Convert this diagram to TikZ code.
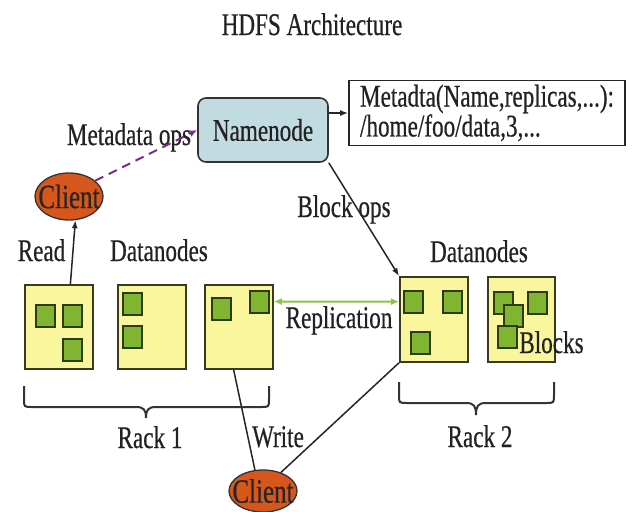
\documentclass[tikz,border=0pt]{standalone}
\usepackage{fontspec}
\setmainfont[FakeStretch=0.735,FakeBold=0.5]{Liberation Serif}
\usetikzlibrary{arrows.meta,shapes.geometric}
\definecolor{txt}{HTML}{222222}
\definecolor{nnfill}{HTML}{C0DCE0}
\definecolor{dnfill}{HTML}{F9F69E}
\definecolor{dnline}{HTML}{3A3A22}
\definecolor{blkfill}{HTML}{80B532}
\definecolor{blkline}{HTML}{2E3A12}
\definecolor{clfill}{HTML}{D6561C}
\definecolor{purp}{HTML}{7A2E8C}
\definecolor{grn}{HTML}{8DC63F}
\begin{document}
\begin{tikzpicture}[x=1pt,y=-1pt,
  lbl/.style={font=\fontsize{31.5}{31.5}\selectfont, inner sep=0pt, text=txt, anchor=base},
  dnbox/.style={draw=dnline, fill=dnfill, line width=1.8pt, minimum width=68pt, minimum height=84pt, inner sep=0pt, anchor=north west},
  blk/.style={draw=blkline, fill=blkfill, line width=1.8pt, minimum width=19pt, minimum height=22pt, inner sep=0pt, anchor=north west},
  client/.style={ellipse, draw=black!80, fill=clfill, line width=1.3pt, minimum width=68pt, inner sep=0pt,
    label={[font=\fontsize{34}{34}\selectfont, text=black!85, inner sep=0pt]center:Client}},
  conn/.style={draw=black!85, line width=1.5pt},
  tip/.style={-{Latex[length=8pt,width=6pt]}},
  bracestyle/.style={draw=black!80, line width=2pt}
]
\fill[white] (0,0) rectangle (633,512);
\useasboundingbox (0,0) rectangle (633,512);

% title
\node[lbl] (title) at (312,35) {HDFS Architecture};

% namenode and metadata
\node[draw=black!80, fill=nnfill, rounded corners=8pt, line width=1.6pt, minimum width=130pt, minimum height=64pt, inner sep=0pt, font=\fontsize{31.5}{31.5}\selectfont, text=txt] (nn) at (263,130) {Namenode};
\node[draw=black!85, line width=1.6pt, minimum width=276pt, minimum height=65pt, inner sep=0pt, align=left, font=\fontsize{31.5}{27}\selectfont, text=txt] (meta) at (487,113) {Metadta(Name,replicas,...):\\/home/foo/data,3,...};

% clients
\node[client, minimum height=47pt] (cl1) at (69,196.5) {};
\node[client, minimum height=42pt] (cl2) at (263,491) {};

% datanodes rack 1
\node[dnbox] (dn1) at (24,284) {};
\node[dnbox] (dn2) at (117,284) {};
\node[dnbox] (dn3) at (204,284) {};
% datanodes rack 2
\node[dnbox, minimum height=85pt] (dn4) at (399,276) {};
\node[dnbox, minimum width=67pt, minimum height=85pt] (dn5) at (487,276) {};

% blocks
\node[blk] (b1) at (35,304) {};
\node[blk] (b2) at (62,304) {};
\node[blk] (b3) at (62,338) {};
\node[blk] (b4) at (122,292) {};
\node[blk] (b5) at (122,325) {};
\node[blk] (b6) at (211,297) {};
\node[blk] (b7) at (249,290) {};
\node[blk] (b8) at (403,290) {};
\node[blk] (b9) at (442,290) {};
\node[blk] (b10) at (410,331) {};
\node[blk] (b11) at (493,291) {};
\node[blk] (b12) at (527,291) {};
\node[blk] (b13) at (503,304) {};
\node[blk] (b14) at (497,325) {};

% labels
\node[lbl] (lmeta) at (129,145) {Metadata ops};
\node[lbl] (lread) at (41.5,261) {Read};
\node[lbl] (ldn1) at (159,261) {Datanodes};
\node[lbl] (ldn2) at (479,262) {Datanodes};
\node[lbl] (lblock) at (344,217) {Block ops};
\node[lbl] (lrep) at (339,328) {Replication};
\node[lbl] (lblocks) at (551.5,353) {Blocks};
\node[lbl] (lrack1) at (150,448) {Rack 1};
\node[lbl] (lrack2) at (480,447) {Rack 2};
\node[lbl] (lwrite) at (278,447) {Write};

% connectors
\draw[conn, tip] (nn.east |- meta.west) -- (meta.west);
\draw[conn, tip] (nn.south east) -- (dn4.north west);
\draw[conn, tip] (dn1.75) -- (cl1.-75);
\draw[draw=purp, line width=2pt, dash pattern=on 9pt off 6pt, -{Latex[length=8pt,width=7pt]}] (cl1.31) -- (nn.west);
\draw[draw=grn, line width=2pt, {Latex[length=8pt,width=7pt]}-{Latex[length=8pt,width=7pt]}] (dn3.36) -- (dn4.153);
\draw[conn] (dn3.-97) -- (cl2.111);
\draw[conn] (cl2.46) -- (dn4.south west);

% braces
\draw[bracestyle] (24,386) -- (24,399) .. controls (24,407) .. (32,407) -- (136,407) .. controls (144,407) and (146,410) .. (146,418) .. controls (146,410) and (148,407) .. (156,407) -- (261,407) .. controls (269,407) .. (269,399) -- (269,386);
\draw[bracestyle] (399,382) -- (399,395) .. controls (399,403) .. (407,403) -- (466,403) .. controls (474,403) and (476,406) .. (476,415) .. controls (476,406) and (478,403) .. (486,403) -- (546,403) .. controls (554,403) .. (554,395) -- (554,382);
\end{tikzpicture}
\end{document}
